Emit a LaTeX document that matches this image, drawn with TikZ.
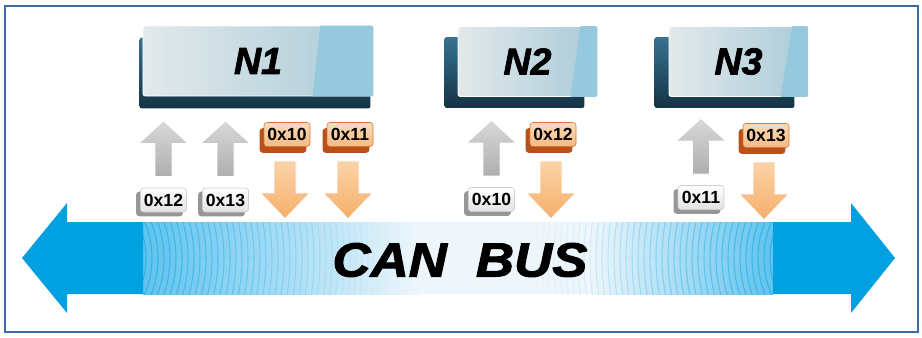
\documentclass[tikz,border=0pt]{standalone}
\usepackage{fontspec}
\setmainfont{Liberation Sans}
\newfontfamily\heavysans[FakeBold=2]{Liberation Sans}
\usetikzlibrary{backgrounds}

\definecolor{busblue}{RGB}{0,160,225}
\definecolor{ripblue}{RGB}{95,195,238}
\definecolor{busmist}{RGB}{238,246,251}
\definecolor{framecol}{RGB}{60,110,165}
\definecolor{facel}{RGB}{226,233,235}
\definecolor{facer}{RGB}{170,203,216}
\definecolor{facestrip}{RGB}{150,200,222}
\definecolor{sidet}{RGB}{55,115,145}
\definecolor{sideb}{RGB}{20,50,68}
\definecolor{keyb}{RGB}{226,226,226}
\definecolor{keyline}{RGB}{205,205,205}
\definecolor{keyedge}{RGB}{150,150,150}
\definecolor{ortop}{RGB}{252,220,185}
\definecolor{orbot}{RGB}{244,185,130}
\definecolor{orline}{RGB}{212,120,60}
\definecolor{oredge}{RGB}{185,80,25}
\definecolor{arrowor}{RGB}{245,175,105}

\tikzset{
  ecunode/.style={rounded corners=2pt, left color=facel, right color=facer, draw=white, line width=0.8pt, minimum height=2.1cm, inner sep=0pt, font=\fontsize{32}{32}\selectfont\heavysans\bfseries\itshape},
  ecuside/.style={rounded corners=2pt, top color=sidet, bottom color=sideb},
  rxkey/.style={rounded corners=2.5pt, top color=white, bottom color=keyb, draw=keyline, line width=0.5pt, minimum width=1.38cm, minimum height=0.72cm, inner sep=0pt, font=\fontsize{15}{15}\selectfont\bfseries},
  txkey/.style={rxkey, top color=ortop, bottom color=orbot, draw=orline},
  rxarrow/.style={top color=gray!30, bottom color=gray!70, draw=white, line width=0.8pt},
  txarrow/.style={top color=ortop, bottom color=arrowor, draw=white, line width=0.8pt},
  busarrow/.style={fill=busblue},
  ripple/.style={busblue, line width=0.9pt},
  busfont/.style={inner sep=0pt, transform shape, xscale=1.1, font=\fontsize{41}{41}\selectfont\heavysans\bfseries\itshape}
}

\begin{document}
\begin{tikzpicture}[x=0.03cm, y=-0.03cm]
    \useasboundingbox (0,0) rectangle (922,338);
    \begin{scope}[on background layer]
        \fill[white] (0,0) rectangle (922,338);
    \end{scope}

    \shade[left color=ripblue, right color=busmist] (143,222) rectangle (420,294);
    \fill[busmist] (420,222) rectangle (590,294);
    \shade[left color=busmist, right color=ripblue] (590,222) rectangle (773,294);
    \begin{scope}
        \clip (143,222) rectangle (773,294);
        \foreach \r in {86,92,...,320} {
            \pgfmathsetmacro\fade{0.5*(1-(\r-86)/240)}
            \draw[ripple, opacity=\fade] (60,258) circle (\r);
            \draw[ripple, opacity=\fade] (856,258) circle (\r);
        }
    \end{scope}
    \fill[busarrow] (22,258) -- (67,203) -- (67,222) -- (143,222) -- (143,294) -- (67,294) -- (67,313) -- cycle;
    \fill[busarrow] (895,258) -- (851,203) -- (851,222) -- (773,222) -- (773,294) -- (851,294) -- (851,313) -- cycle;
    \node[busfont] (bus) at (460,260) {CAN\hspace{0.55em}BUS};

    \node[ecunode, minimum width=6.9cm] (n1) at (258,61) {N1};
    \node[ecunode, minimum width=4.17cm] (n2) at (527.5,61.5) {N2};
    \node[ecunode, minimum width=4.17cm] (n3) at (738.5,61.5) {N3};
    \foreach \ecu/\topw/\botw in {n1/53/61, n2/17/27, n3/16/28} {
        \begin{scope}
            \clip[rounded corners=2pt] (\ecu.north west) rectangle (\ecu.south east);
            \fill[facestrip] ([shift={(-\topw,0)}]\ecu.north east) -- (\ecu.north east) -- (\ecu.south east) -- ([shift={(-\botw,0)}]\ecu.south east) -- cycle;
        \end{scope}
    }

    \node[rxkey] (k12) at (163.5,200) {0x12};
    \node[rxkey] (k13) at (225.5,200) {0x13};
    \node[rxkey] (k10) at (491.5,199.5) {0x10};
    \node[rxkey] (k11) at (701,197.5) {0x11};
    \node[txkey] (t10) at (287,134.5) {0x10};
    \node[txkey] (t11) at (350,134.5) {0x11};
    \node[txkey] (t12) at (553,134.5) {0x12};
    \node[txkey] (t13) at (766,135.5) {0x13};

    \begin{scope}[on background layer]
        \foreach \ecu/\dx/\dy in {n1/-3/12, n2/-13/11, n3/-14/11}
            \shade[ecuside] ([shift={(\dx,\dy)}]\ecu.north west) rectangle ([shift={(\dx,\dy)}]\ecu.south east);
        \foreach \key in {k12,k13,k10,k11}
            \fill[keyedge, rounded corners=2.5pt] ([shift={(-4,4)}]\key.north west) rectangle ([shift={(-4,4)}]\key.south east);
        \foreach \key in {t10,t11,t12,t13}
            \fill[oredge, rounded corners=2.5pt] ([shift={(-4,6)}]\key.north west) rectangle ([shift={(-4,6)}]\key.south east);
    \end{scope}

    \foreach \key in {k12,k13,k10,k11}
        \shade[rxarrow] (\key.north) ++(8.5,-11) -- ++(0,-33) -- ++(16.5,0) -- ++(-25,-23) -- ++(-25,23) -- ++(16.5,0) -- ++(0,33) -- cycle;
    \foreach \key in {t10,t11,t12,t13}
        \shade[txarrow] (\key.south) ++(-13,14) -- ++(22,0) -- ++(0,32) -- ++(14,0) -- ++(-25,26) -- ++(-25,-26) -- ++(14,0) -- cycle;

    \draw[framecol, line width=1pt] (5,6) rectangle (918,332);
\end{tikzpicture}
\end{document}
